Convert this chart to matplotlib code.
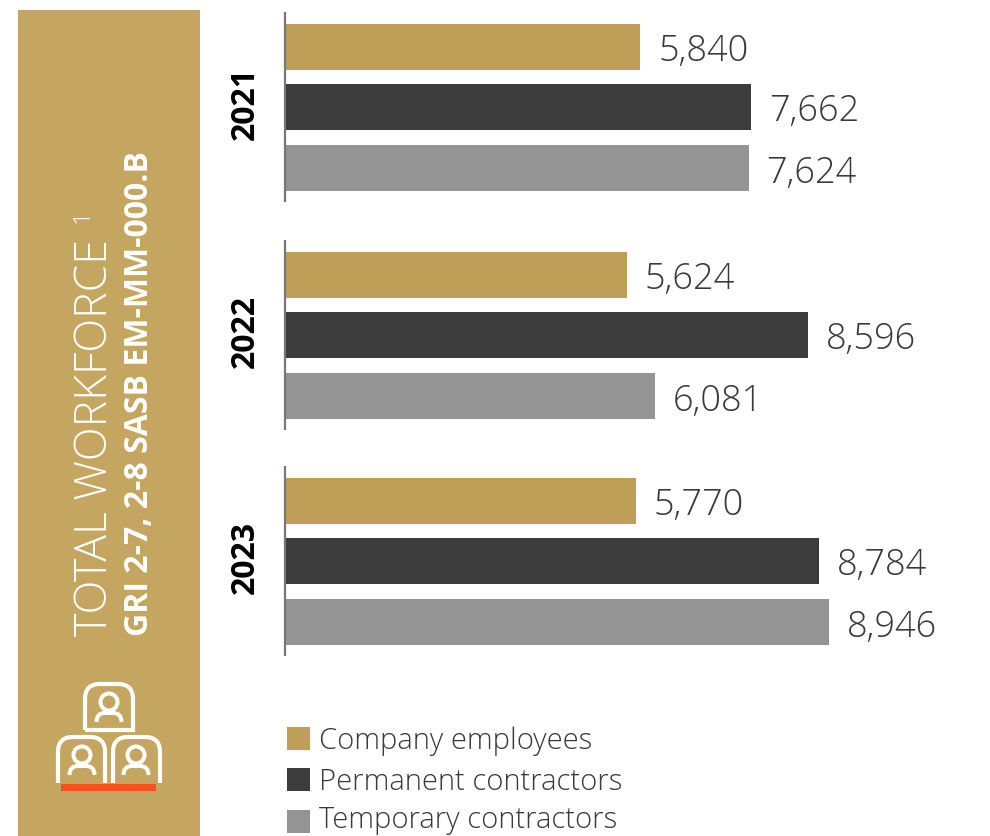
import matplotlib
matplotlib.use('Agg')
import matplotlib.pyplot as plt
from matplotlib.patches import Rectangle, Circle, PathPatch
from matplotlib.path import Path

years = ['2021', '2022', '2023']
series_names = ['Company employees', 'Permanent contractors', 'Temporary contractors']
company_employees = [5840, 5624, 5770]
permanent_contractors = [7662, 8596, 8784]
temporary_contractors = [7624, 6081, 8946]

GOLD = '#BF9F57'
PANEL = '#C4A661'
DARK = '#3C3C3C'
GREY = '#949494'
WHITE = '#FFFFFF'
RED = '#FF4E1A'
TEXT = '#3A3A3A'

W, H = 990, 836
PX_PER_UNIT = 0.0608
AXIS_X = 285
BAR_H = 46
group_tops = [24, 252, 478]
bar_steps = [0, 60, 121]

fig = plt.figure(figsize=(W / 100, H / 100), dpi=100)

# pixel-space layer for the side panel and the icon
deco = fig.add_axes([0, 0, 1, 1])
deco.set_xlim(0, W)
deco.set_ylim(H, 0)
deco.axis('off')

# chart layer: x in headcount, y in pixels
ax = fig.add_axes([0, 0, 1, 1], facecolor='none')
ax.set_xlim(-AXIS_X / PX_PER_UNIT, (W - AXIS_X) / PX_PER_UNIT)
ax.set_ylim(H, 0)
ax.axis('off')

deco.add_patch(Rectangle((18, 10), 182, 826, color=PANEL, lw=0))


def frame(x0, x1, top, bottom, closed=False):
    r = 15
    verts = [(x0, bottom), (x0, top + r), (x0, top), (x0 + r, top),
             (x1 - r, top), (x1, top), (x1, top + r), (x1, bottom)]
    codes = [Path.MOVETO, Path.LINETO, Path.CURVE3, Path.CURVE3,
             Path.LINETO, Path.CURVE3, Path.CURVE3, Path.LINETO]
    if closed:
        verts.append((x0, bottom))
        codes.append(Path.LINETO)
    deco.add_patch(PathPatch(Path(verts, codes), fill=False, ec=WHITE, lw=3.0,
                             capstyle='butt', joinstyle='miter'))


def person(cx, head_y):
    deco.add_patch(Circle((cx, head_y), 8.5, fill=False, ec=WHITE, lw=2.9))
    sy = head_y + 20
    verts = [(cx - 12.5, sy), (cx - 12.5, sy - 9), (cx - 4, sy - 9), (cx + 4, sy - 9),
             (cx + 12.5, sy - 9), (cx + 12.5, sy)]
    codes = [Path.MOVETO, Path.CURVE3, Path.CURVE3, Path.LINETO, Path.CURVE3, Path.CURVE3]
    deco.add_patch(PathPatch(Path(verts, codes), fill=False, ec=WHITE, lw=2.9, capstyle='butt'))


frame(85, 133, 684, 730, closed=True)
frame(58, 105, 737, 783)
frame(113, 160, 737, 783)
person(109, 702)
person(82, 755)
person(136, 755)
deco.add_patch(Rectangle((61, 784), 95, 7, color=RED, lw=0))

# panel titles
deco.text(96, 636, 'TOTAL WORKFORCE', rotation=90, ha='center', va='bottom', color=WHITE,
          fontsize=32, family='Open Sans', fontweight='light')
deco.text(83, 223, '1', rotation=90, ha='center', va='bottom', color=WHITE,
          fontsize=17, family='Open Sans', fontweight='light')
deco.text(140, 636, 'GRI 2-7, 2-8 SASB EM-MM-000.B', rotation=90, ha='center', va='bottom',
          color=WHITE, fontsize=23, family='Open Sans', fontweight='bold')

colors = [GOLD, DARK, GREY]
all_series = [company_employees, permanent_contractors, temporary_contractors]

for g, year in enumerate(years):
    top = group_tops[g]
    for s, values in enumerate(all_series):
        y = top + bar_steps[s] + BAR_H / 2
        ax.barh(y, values[g], height=BAR_H, left=0, color=colors[s], lw=0)
        ax.text(values[g] + 18 / PX_PER_UNIT, y + 5, f'{values[g]:,}', ha='left', va='center',
                color=TEXT, fontsize=26, family='Open Sans', fontweight='light')
    # vertical baseline for each year group
    ax.plot([0, 0], [top - 12, top + 178], color='#777777', lw=1.6, solid_capstyle='butt')
    ax.text(-40 / PX_PER_UNIT, top + 79, year, rotation=90, ha='center', va='center',
            color='black', fontsize=23, family='Open Sans', fontweight='bold')

# legend built by hand under the bars
for name, color, y, text_y in zip(series_names, colors, [739, 780, 822], [741, 782, 820]):
    deco.add_patch(Rectangle((287, y - 12), 23, 23, color=color, lw=0))
    deco.text(319, text_y, name, ha='left', va='center', color=TEXT, fontsize=21,
              family='Open Sans', fontweight='light')

fig.savefig('out.png', dpi=100)
